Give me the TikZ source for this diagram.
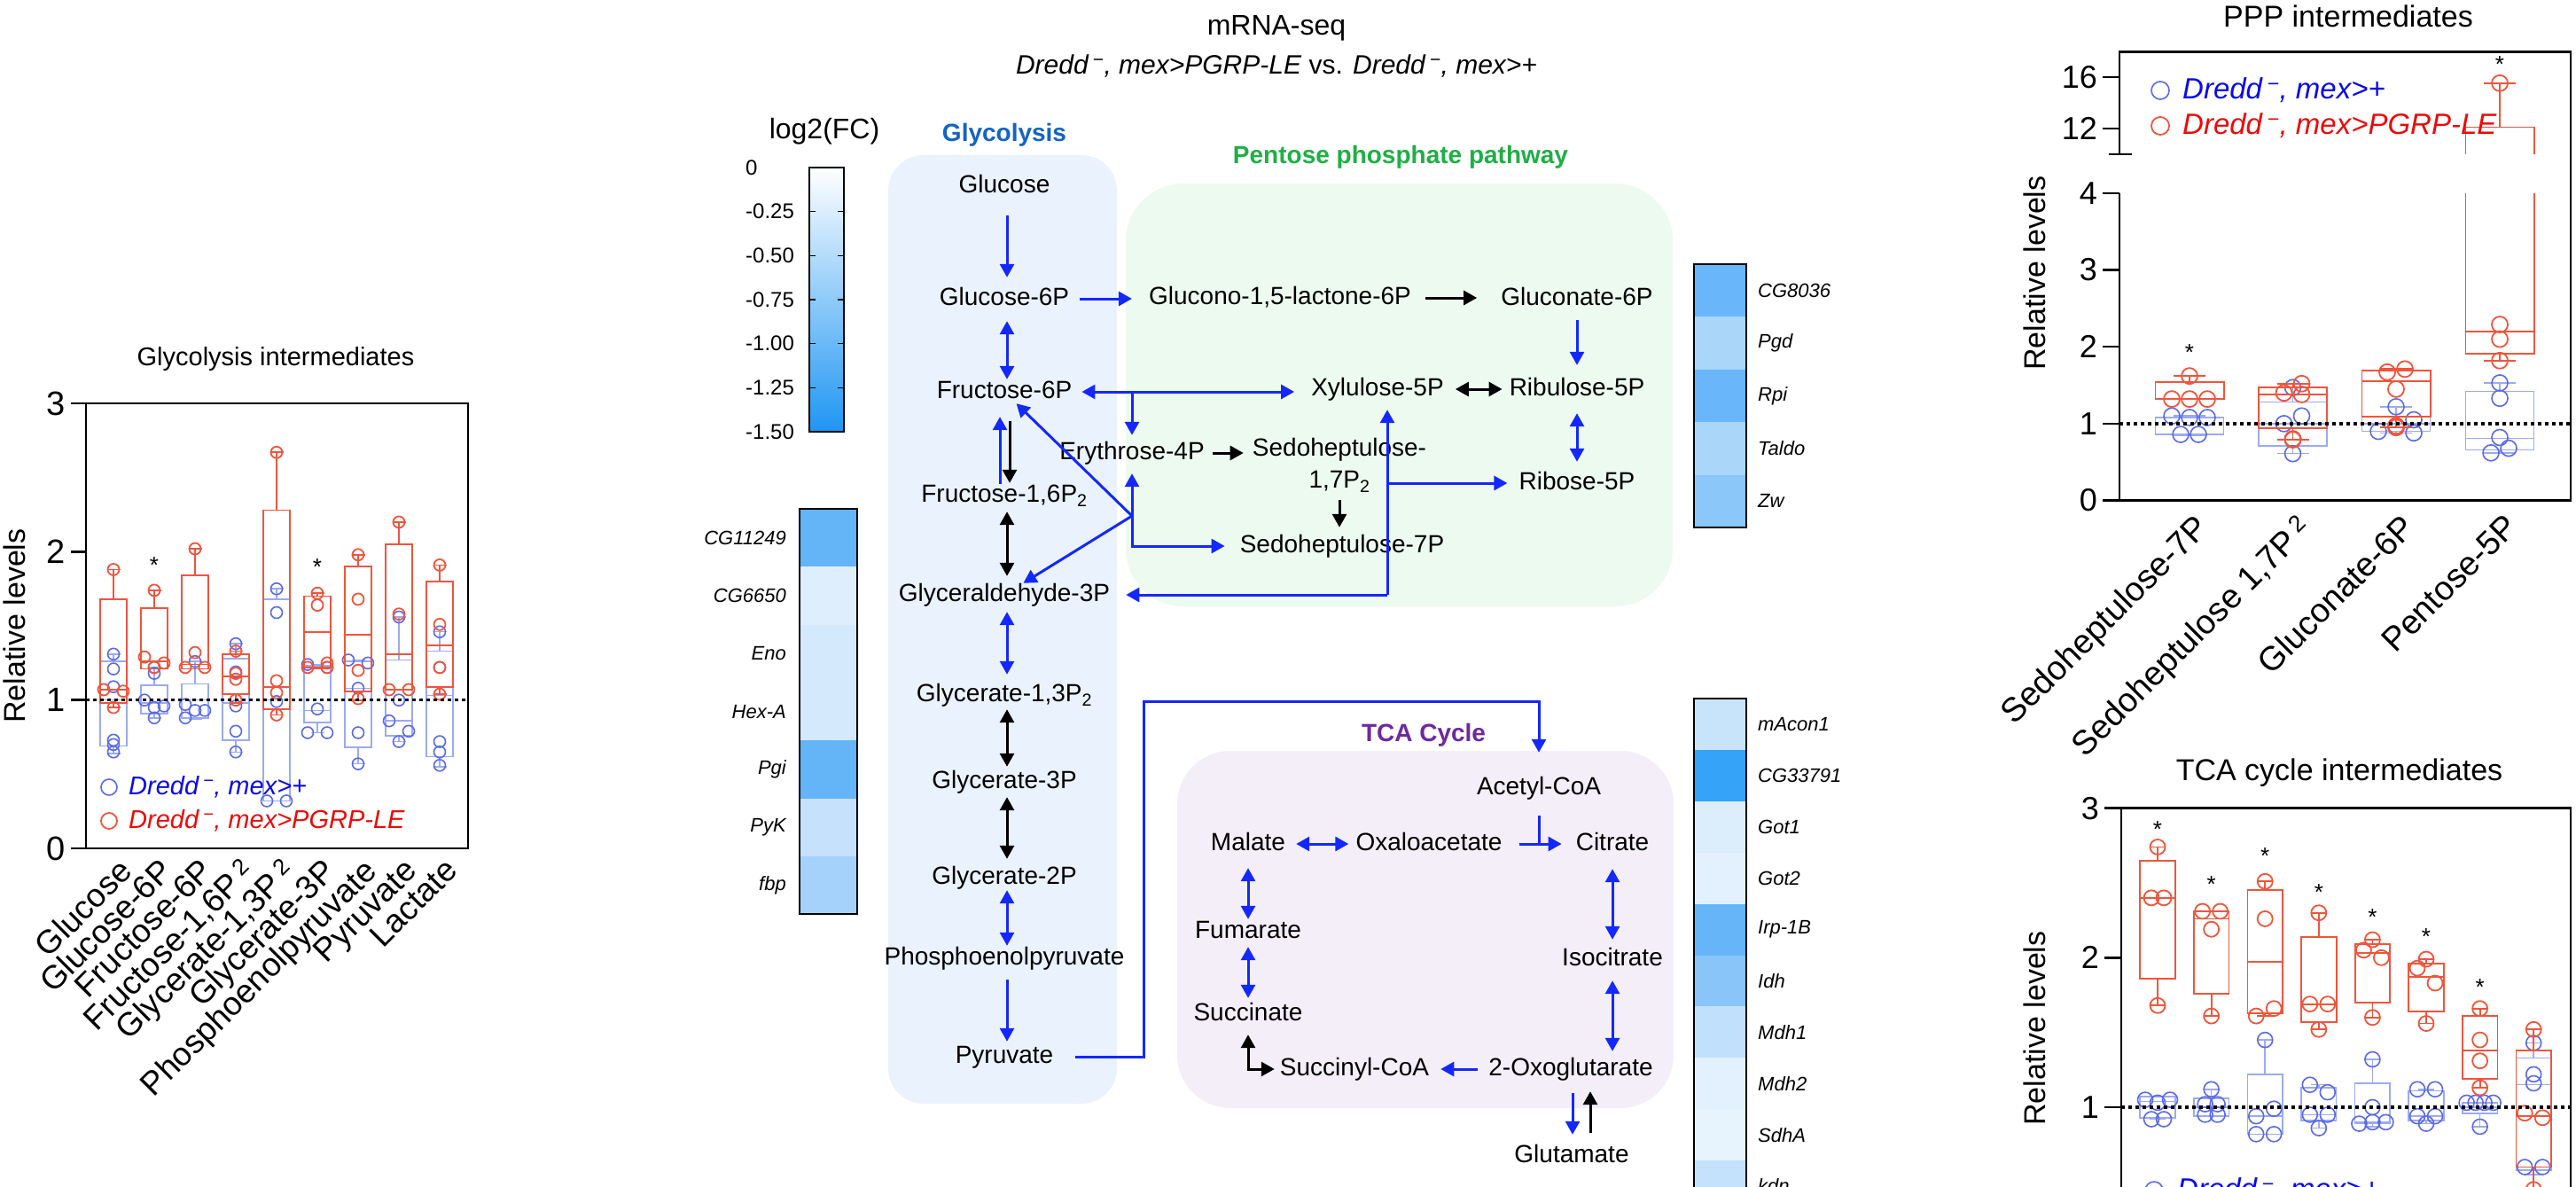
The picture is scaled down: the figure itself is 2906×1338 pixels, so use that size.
\documentclass[tikz,border=0pt]{standalone}
\usepackage{fontspec}
\setmainfont{Liberation Sans}
\usepackage{tikz}
\usetikzlibrary{arrows.meta}

\definecolor{flowblue}{RGB}{20,40,250}
\definecolor{glyfill}{RGB}{234,242,253}
\definecolor{pppfill}{RGB}{237,250,239}
\definecolor{tcafill}{RGB}{243,238,248}
\definecolor{glytext}{RGB}{20,100,195}
\definecolor{ppptext}{RGB}{30,175,70}
\definecolor{tcatext}{RGB}{110,40,160}
\definecolor{boxred}{RGB}{240,85,60}
\definecolor{boxblue}{RGB}{155,170,245}
\definecolor{dotblue}{RGB}{90,105,235}
\definecolor{legblue}{RGB}{10,10,235}
\definecolor{legred}{RGB}{235,10,10}
\definecolor{cbblue}{RGB}{30,150,243}
\definecolor{hg1}{RGB}{100,180,248}
\definecolor{hg2}{RGB}{222,238,252}
\definecolor{hg3}{RGB}{213,233,252}
\definecolor{hg4}{RGB}{213,233,252}
\definecolor{hg5}{RGB}{100,180,248}
\definecolor{hg6}{RGB}{198,225,251}
\definecolor{hg7}{RGB}{165,210,250}
\definecolor{hp1}{RGB}{105,182,250}
\definecolor{hp2}{RGB}{170,214,250}
\definecolor{hp3}{RGB}{105,182,250}
\definecolor{hp4}{RGB}{170,214,250}
\definecolor{hp5}{RGB}{140,199,250}
\definecolor{ht1}{RGB}{200,228,251}
\definecolor{ht2}{RGB}{52,163,248}
\definecolor{ht3}{RGB}{220,237,252}
\definecolor{ht4}{RGB}{226,241,253}
\definecolor{ht5}{RGB}{102,181,248}
\definecolor{ht6}{RGB}{137,197,248}
\definecolor{ht7}{RGB}{192,224,251}
\definecolor{ht8}{RGB}{226,241,253}
\definecolor{ht9}{RGB}{231,244,254}
\definecolor{ht10}{RGB}{196,226,251}

\newcommand{\pxfont}[1]{\fontsize{#1}{#1}\selectfont}
\newcommand{\ctlgeno}{\textit{Dredd\,\textsuperscript{−}, mex>+}}
\newcommand{\pgrpgeno}{\textit{Dredd\,\textsuperscript{−}, mex>PGRP-LE}}
\newcommand{\bplot}[9]{%
  \draw[#7] (#1-\bw,#3) rectangle (#1+\bw,#5)
    (#1-\bw,#4) -- (#1+\bw,#4)
    (#1,#5) -- (#1,#6) (#1-\cw,#6) -- (#1+\cw,#6)
    (#1,#3) -- (#1,#2) (#1-\cw,#2) -- (#1+\cw,#2);
  \foreach \ox/\oy in {#9} \draw[#8] (#1+\ox,\oy) circle[radius=\pr];}

\begin{document}
\begin{tikzpicture}[x=1pt,y=-1pt]
\tikzset{
  >={Triangle[length=15pt,width=16pt]},
  MetBase/.style={inner sep=0pt},
  MetStyle/.style={font=\pxfont{28}, inner sep=0pt, text height=20pt, text depth=6pt},
  BlueArrow/.style={draw=flowblue, line width=3pt},
  BlackArrow/.style={draw=black, line width=3pt},
  PathTitle/.style={font=\bfseries\pxfont{28}},
  GeneStyle/.style={font=\itshape\pxfont{22}, inner sep=0pt},
  CbarStyle/.style={font=\pxfont{24}, inner sep=0pt, anchor=west},
  ChartTitle/.style={font=\pxfont{#1}},
  AxisLabel/.style={font=\pxfont{34}, rotate=90},
  TickLabel/.style={font=\pxfont{#1}, anchor=east, inner sep=0pt},
  CatLabel/.style={font=\pxfont{#1}, rotate=45, anchor=north east, inner sep=0pt},
  FrameStyle/.style={line width=2.5pt, black},
  DotLine/.style={line width=3.5pt, dash pattern=on 3.5pt off 4.5pt},
  RedBox/.style={draw=boxred, line width=1.8pt},
  BlueBox/.style={draw=boxblue, line width=1.5pt},
  BlueDot/.style={draw=dotblue, line width=1.6pt},
  StarStyle/.style={font=\pxfont{26}, inner sep=0pt},
  LegBlue/.style={font=\pxfont{#1}, text=legblue, anchor=west, inner sep=0pt},
  LegRed/.style={font=\pxfont{#1}, text=legred, anchor=west, inner sep=0pt}
}
\useasboundingbox (0,0) rectangle (2906,1338);
\clip (0,0) rectangle (2906,1338);
\fill[white] (0,0) rectangle (2906,1338);

\node[ChartTitle=29] (glytitle) at (311,405) {Glycolysis intermediates};
\node[AxisLabel] (glyylab) at (16,706) {Relative levels};
\begin{scope}[shift={(0,957)}, y=167.3pt]
\def\bw{15}\def\cw{7.5}\def\pr{6.5pt}
\bplot{128}{0.64}{0.69}{1.0}{1.26}{1.31}{BlueBox}{BlueDot}{0/1.31,0/1.21,0/1.09,0/0.73,0/0.70,0/0.65}
\bplot{174}{0.88}{0.91}{0.98}{1.10}{1.22}{BlueBox}{BlueDot}{0/1.22,0/1.18,-11/1.0,11/0.96,0/0.95,0/0.88}
\bplot{220}{0.87}{0.88}{1.0}{1.11}{1.26}{BlueBox}{BlueDot}{0/1.26,-11/0.97,0/0.93,11/0.93,-11/0.88}
\bplot{266}{0.65}{0.73}{0.98}{1.28}{1.38}{BlueBox}{BlueDot}{0/1.38,0/1.19,0/0.96,0/0.79,0/0.65}
\bplot{312}{0.32}{0.32}{1.0}{1.68}{1.75}{BlueBox}{BlueDot}{0/1.75,0/1.59,0/0.99,-11/0.32,11/0.32}
\bplot{358}{0.78}{0.85}{0.93}{1.23}{1.24}{BlueBox}{BlueDot}{-11/1.24,11/1.22,0/0.94,-11/0.78,11/0.78}
\bplot{404}{0.57}{0.68}{1.08}{1.26}{1.27}{BlueBox}{BlueDot}{-11/1.27,11/1.25,0/1.08,0/0.78,0/0.57}
\bplot{450}{0.72}{0.76}{0.86}{1.27}{1.56}{BlueBox}{BlueDot}{0/1.56,0/1.0,-11/0.86,11/0.79,0/0.72}
\bplot{496}{0.55}{0.62}{1.03}{1.33}{1.46}{BlueBox}{BlueDot}{0/1.46,0/1.22,0/0.72,0/0.65,0/0.56}
\bplot{128}{0.95}{0.98}{1.07}{1.68}{1.88}{RedBox}{RedBox}{0/1.88,-11/1.07,11/1.06,0/0.95}
\bplot{174}{1.21}{1.21}{1.26}{1.62}{1.74}{RedBox}{RedBox}{0/1.74,-11/1.29,11/1.25,0/1.22}
\bplot{220}{1.21}{1.21}{1.24}{1.84}{2.02}{RedBox}{RedBox}{0/2.02,0/1.32,-11/1.22,11/1.22}
\bplot{266}{0.98}{1.04}{1.16}{1.31}{1.33}{RedBox}{RedBox}{0/1.33,0/1.18,0/1.14,0/1.0}
\bplot{312}{0.90}{0.94}{1.09}{2.28}{2.67}{RedBox}{RedBox}{0/2.67,0/1.13,0/1.05,0/0.90}
\bplot{358}{1.21}{1.22}{1.46}{1.70}{1.72}{RedBox}{RedBox}{0/1.72,0/1.64,11/1.25,-11/1.22,11/1.22}
\bplot{404}{1.0}{1.06}{1.44}{1.90}{1.98}{RedBox}{RedBox}{0/1.98,0/1.68,0/1.2,0/1.01}
\bplot{450}{1.07}{1.07}{1.31}{2.05}{2.2}{RedBox}{RedBox}{0/2.2,0/1.58,-11/1.07,11/1.07}
\bplot{496}{1.04}{1.09}{1.37}{1.80}{1.91}{RedBox}{RedBox}{0/1.91,0/1.51,0/1.22,0/1.04}
\node[StarStyle] (glys1) at (174,1.91) {*};
\node[StarStyle] (glys2) at (358,1.90) {*};
\draw[DotLine] (97,1) -- (528,1);
\draw[FrameStyle] (97,0) rectangle (528,3);
\foreach \t in {0,1,2,3} {
  \draw[FrameStyle] (80,\t) -- (97,\t);
  \node[TickLabel=38] (glyt\t) at (74,\t) {\t};
}
\end{scope}
\draw[BlueDot] (123,888) circle[radius=9pt];
\node[LegBlue=29] (glyleg1) at (145,888) {\ctlgeno};
\draw[RedBox] (123,926) circle[radius=9pt];
\node[LegRed=29] (glyleg2) at (145,926) {\pgrpgeno};
\foreach \c/\lab [count=\i] in {128/Glucose, 174/Glucose-6P, 220/Fructose-6P, 266/{Fructose-1,6P\,\textsuperscript{2}}, 312/{Glycerate-1,3P\,\textsuperscript{2}}, 358/Glycerate-3P, 404/Phosphoenolpyruvate, 450/Pyruvate, 496/Lactate}
  \node[CatLabel=37] (glyx\i) at (\c+4,966) {\lab};

\node[font=\pxfont{32}] (seqtitle) at (1440,32) {mRNA-seq};
\node[font=\pxfont{30}] (seqsub) at (1440,75) {\textit{Dredd\,\textsuperscript{−}, mex>PGRP-LE} vs. \textit{Dredd\,\textsuperscript{−}, mex>+}};

\node[font=\pxfont{32}] (cbtitle) at (930,148) {log2(FC)};
\shade[top color=white, bottom color=cbblue] (913,189) rectangle (952,487);
\draw[line width=1.5pt] (913,189) rectangle (952,487);
\foreach \k in {1,...,5}
  \draw[line width=1.5pt] (913,{189+49.67*\k}) -- (920,{189+49.67*\k}) (945,{189+49.67*\k}) -- (952,{189+49.67*\k});
\foreach \lab [count=\k from 0] in {0,-0.25,-0.50,-0.75,-1.00,-1.25,-1.50}
  \node[CbarStyle] (cbl\k) at (841,{189+49.67*\k}) {\lab};

\foreach \col/\gene [count=\i] in {hg1/CG11249,hg2/CG6650,hg3/Eno,hg4/Hex-A,hg5/Pgi,hg6/PyK,hg7/fbp} {
  \fill[\col] (902,{574+65.3*(\i-1)}) rectangle (967,{574+65.3*\i});
  \node[GeneStyle, anchor=east] (glyg\i) at (887,{574+65.3*(\i-0.5)}) {\gene};
}
\draw[line width=1.5pt] (902,574) rectangle (967,1031);
\foreach \col/\gene [count=\i] in {hp1/CG8036,hp2/Pgd,hp3/Rpi,hp4/Taldo,hp5/Zw} {
  \fill[\col] (1911,{298+59.4*(\i-1)}) rectangle (1970,{298+59.4*\i});
  \node[GeneStyle, anchor=west] (pppg\i) at (1983,{298+59.4*(\i-0.5)}) {\gene};
}
\draw[line width=1.5pt] (1911,298) rectangle (1970,595);
\foreach \col/\gene [count=\i] in {ht1/mAcon1,ht2/CG33791,ht3/Got1,ht4/Got2,ht5/Irp-1B,ht6/Idh,ht7/Mdh1,ht8/Mdh2,ht9/SdhA,ht10/kdn} {
  \fill[\col] (1911,{788+57.9*(\i-1)}) rectangle (1970,{788+57.9*\i});
  \node[GeneStyle, anchor=west] (tcag\i) at (1983,{788+57.9*(\i-0.5)}) {\gene};
}
\draw[line width=1.5pt] (1911,1367) -- (1911,788) -- (1970,788) -- (1970,1367);

\fill[glyfill, rounded corners=40pt] (1002,175) rectangle (1260,1245);
\fill[pppfill, rounded corners=65pt] (1270,207) rectangle (1887,684);
\fill[tcafill, rounded corners=60pt] (1328,847) rectangle (1888,1250);
\node[PathTitle, text=glytext] (glylab) at (1133,152) {Glycolysis};
\node[PathTitle, text=ppptext] (ppplab) at (1580,177) {Pentose phosphate pathway};
\node[PathTitle, text=tcatext] (tcalab) at (1606,829) {TCA Cycle};

\node[MetStyle] (glc) at (1133,210) {Glucose};
\node[MetStyle] (g6p) at (1133,337) {Glucose-6P};
\node[MetStyle] (f6p) at (1133,442) {Fructose-6P};
\node[MetStyle] (fbp) at (1133,559) {Fructose-1,6P\textsubscript{2}};
\node[MetStyle] (gap) at (1133,671) {Glyceraldehyde-3P};
\node[MetStyle] (bpg) at (1133,784) {Glycerate-1,3P\textsubscript{2}};
\node[MetStyle] (pg3) at (1133,882) {Glycerate-3P};
\node[MetStyle] (pg2) at (1133,990) {Glycerate-2P};
\node[MetStyle] (pep) at (1133,1081) {Phosphoenolpyruvate};
\node[MetStyle] (pyr) at (1133,1192) {Pyruvate};
\node[MetStyle] (gl6) at (1444,336) {Glucono-1,5-lactone-6P};
\node[MetStyle] (gn6) at (1779,337) {Gluconate-6P};
\node[MetStyle] (xu5) at (1554,439) {Xylulose-5P};
\node[MetStyle] (ru5) at (1779,439) {Ribulose-5P};
\node[MetStyle] (e4p) at (1277,511) {Erythrose-4P};
\node[MetBase, align=center, font=\fontsize{28}{36}\selectfont] (s17) at (1511,525) {Sedoheptulose-\\1,7P\textsubscript{2}};
\node[MetStyle] (s7p) at (1514,616) {Sedoheptulose-7P};
\node[MetStyle] (r5p) at (1779,545) {Ribose-5P};
\node[MetStyle] (acoa) at (1736,889) {Acetyl-CoA};
\node[MetStyle] (mal) at (1408,952) {Malate};
\node[MetStyle] (oaa) at (1612,952) {Oxaloacetate};
\node[MetStyle] (cit) at (1819,952) {Citrate};
\node[MetStyle] (fum) at (1408,1051) {Fumarate};
\node[MetStyle] (suc) at (1408,1144) {Succinate};
\node[MetStyle] (icit) at (1819,1082) {Isocitrate};
\node[MetStyle] (sca) at (1528,1206) {Succinyl-CoA};
\node[MetStyle] (akg) at (1772,1206) {2-Oxoglutarate};
\node[MetStyle] (glu) at (1773,1304) {Glutamate};
\coordinate (hub) at (1277,582);
\coordinate (fx) at (1277,442);
\coordinate (xv) at (1565,671);
\coordinate (xr) at (1565,545);
\coordinate (tj) at (1736,952);
\coordinate (pyrup) at (1290,791);

\draw[BlueArrow,->,shorten <=20pt,shorten >=11pt] ([xshift=3pt]glc.south) -- ([xshift=3pt]g6p.north);
\draw[BlueArrow,<->,shorten <=12pt,shorten >=1pt] ([xshift=3pt]g6p.south) -- ([xshift=3pt]f6p.north);
\draw[BlueArrow,->,shorten >=15pt] ([xshift=-5pt]fbp.north) -- ([xshift=-5pt]f6p.south);
\draw[BlackArrow,->,shorten <=20pt,shorten >=1pt] ([xshift=6pt]f6p.south) -- ([xshift=6pt]fbp.north);
\draw[BlackArrow,<->,shorten <=5pt,shorten >=8pt] ([xshift=3pt]fbp.south) -- ([xshift=3pt]gap.north);
\draw[BlueArrow,<->,shorten <=6pt,shorten >=10pt] ([xshift=3pt]gap.south) -- ([xshift=3pt]bpg.north);
\draw[BlackArrow,<->,shorten <=3pt,shorten >=4pt] ([xshift=3pt]bpg.south) -- ([xshift=3pt]pg3.north);
\draw[BlackArrow,<->,shorten <=4pt,shorten >=8pt] ([xshift=3pt]pg3.south) -- ([xshift=3pt]pg2.north);
\draw[BlueArrow,<->,shorten <=1pt,shorten >=1pt] ([xshift=3pt]pg2.south) -- ([xshift=3pt]pep.north);
\draw[BlueArrow,->,shorten <=11pt,shorten >=4pt] ([xshift=3pt]pep.south) -- ([xshift=3pt]pyr.north);
\draw[BlueArrow,->,shorten <=25pt,shorten >=27pt] (pyr) -- (pyr -| pyrup) -- (pyrup) -| (acoa);

\draw[BlueArrow,->,shorten <=12pt,shorten >=19pt] (g6p) -- (g6p -| gl6.west);
\draw[BlackArrow,->,shorten <=16pt,shorten >=27pt] (gl6) -- (gl6 -| gn6.west);
\draw[BlueArrow,->,shorten <=11pt,shorten >=14pt] (gn6) -- (ru5);
\draw[BlackArrow,<->,shorten <=13pt,shorten >=8pt] (xu5) -- (ru5);
\draw[BlueArrow,<->,shorten <=11pt,shorten >=19pt] (f6p) -- (f6p -| xu5.west);
\draw[BlueArrow,->,shorten >=7pt] (fx) -- (e4p);
\draw[BlackArrow,->,shorten <=9pt,shorten >=10pt] (e4p.east) -- (e4p.east -| s17.west);
\draw[BlackArrow,->,shorten <=8pt,shorten >=8pt] (s17.south) -- (s17.south |- s7p.north);
\draw[BlueArrow,->,shorten >=10pt] (hub) -- (e4p);
\draw[BlueArrow,->] (hub) -- (f6p);
\draw[BlueArrow,->] (hub) -- (gap);
\draw[BlueArrow,->,shorten >=17pt] (hub) |- (s7p);
\draw[BlueArrow,->,shorten >=18pt] (xv) -- (gap);
\draw[BlueArrow,->,shorten >=10pt] (xv) -- (xv |- xu5.south);
\draw[BlueArrow,->,shorten >=13pt] (xr) -- (xr -| r5p.west);
\draw[BlueArrow,<->,shorten <=14pt,shorten >=11pt] (ru5) -- (r5p);

\draw[BlueArrow,<->,shorten <=12pt,shorten >=8pt] (mal) -- (oaa);
\draw[BlueArrow,->,shorten <=19pt,shorten >=16pt] (oaa) -- (cit);
\draw[BlueArrow,shorten <=18pt] (acoa) -- (tj);
\draw[BlueArrow,<->,shorten <=14pt,shorten >=1pt] (mal) -- (fum);
\draw[BlueArrow,<->,shorten <=4pt,shorten >=5pt] (fum) -- (suc);
\draw[BlackArrow,<->,shorten <=10pt,shorten >=6pt] (suc) |- (sca);
\draw[BlueArrow,->,shorten <=12pt,shorten >=13pt] (akg) -- (sca);
\draw[BlueArrow,<->,shorten <=15pt,shorten >=9pt] (cit) -- (icit);
\draw[BlueArrow,<->,shorten <=11pt,shorten >=7pt] (icit.south) -- (icit.south |- akg.north);
\draw[BlueArrow,->,shorten <=14pt,shorten >=11pt] ([xshift=2pt]akg.south) -- ([xshift=1pt]glu.north);
\draw[BlackArrow,->,shorten <=13pt,shorten >=12pt] ([xshift=21pt]glu.north) -- ([xshift=22pt]akg.south);

\node[ChartTitle=34] (ppptitle) at (2649,18) {PPP intermediates};
\node[AxisLabel] (pppylab) at (2295,308) {Relative levels};
\begin{scope}[shift={(0,564.6)}, y=86.7pt]
\def\bw{38.6}\def\cw{18}\def\pr{9pt}
\bplot{2470}{0.85}{0.86}{1.08}{1.085}{1.10}{BlueBox}{BlueDot}{-20/1.10,0/1.08,20/1.08,-10/0.86,10/0.86}
\bplot{2586.5}{0.61}{0.71}{1.0}{1.28}{1.47}{BlueBox}{BlueDot}{0/1.47,10/1.1,-10/1.0,0/0.8,0/0.61}
\bplot{2703}{0.88}{0.90}{1.0}{1.09}{1.22}{BlueBox}{BlueDot}{0/1.22,20/1.05,0/0.97,-20/0.9,20/0.88}
\bplot{2820}{0.62}{0.66}{0.81}{1.42}{1.53}{BlueBox}{BlueDot}{0/1.53,0/1.33,0/0.82,10/0.68,-10/0.62}
\bplot{2470}{1.32}{1.32}{1.32}{1.54}{1.62}{RedBox}{RedBox}{0/1.62,-20/1.32,0/1.32,20/1.32}
\bplot{2586.5}{0.79}{0.94}{1.38}{1.47}{1.52}{RedBox}{RedBox}{10/1.52,-10/1.40,10/1.38,0/0.80,0/0.79}
\bplot{2703}{0.95}{1.09}{1.55}{1.69}{1.71}{RedBox}{RedBox}{-10/1.67,10/1.71,0/1.45,0/0.97,0/0.95}
\draw[RedBox] (2781.4,4) -- (2781.4,1.91) -- (2858.6,1.91) -- (2858.6,4)
  (2781.4,4.505) -- (2781.4,4.857) -- (2858.6,4.857) -- (2858.6,4.505)
  (2781.4,2.2) -- (2858.6,2.2)
  (2820,4.857) -- (2820,5.43) (2802,5.43) -- (2838,5.43)
  (2820,1.91) -- (2820,1.82) (2802,1.82) -- (2838,1.82);
\foreach \oy in {5.43,2.29,2.1,1.82} \draw[RedBox] (2820,\oy) circle[radius=9pt];
\node[StarStyle] (ppps1) at (2470,1.93) {*};
\node[StarStyle] (ppps2) at (2820,5.67) {*};
\draw[DotLine] (2391,1) -- (2900,1);
\draw[FrameStyle] (2391,4.505) -- (2391,5.837) -- (2900,5.837) -- (2900,0) -- (2372,0);
\draw[FrameStyle] (2391,0) -- (2391,4);
\draw[FrameStyle] (2379,4.505) -- (2405,4.505);
\draw[FrameStyle] (2372,4.838) -- (2391,4.838) (2372,5.507) -- (2391,5.507);
\foreach \t in {0,...,4} {
  \draw[FrameStyle] (2372,\t) -- (2391,\t);
  \node[TickLabel=36] (pppt\t) at (2366,\t) {\t};
}
\node[TickLabel=36] (pppt12) at (2366,4.838) {12};
\node[TickLabel=36] (pppt16) at (2366,5.507) {16};
\end{scope}
\draw[BlueDot] (2437,102) circle[radius=10pt];
\node[LegBlue=33] (pppleg1) at (2462,102) {\ctlgeno};
\draw[RedBox] (2437,142) circle[radius=10pt];
\node[LegRed=33] (pppleg2) at (2462,142) {\pgrpgeno};
\foreach \c/\lab [count=\i] in {2470/Sedoheptulose-7P, 2586.5/{Sedoheptulose 1,7P\,\textsuperscript{2}}, 2703/Gluconate-6P, 2820/Pentose-5P}
  \node[CatLabel=38] (pppx\i) at (\c+4,578) {\lab};

\node[ChartTitle=34] (tcatitle) at (2639,872) {TCA cycle intermediates};
\node[AxisLabel] (tcaylab) at (2295,1160) {Relative levels};
\begin{scope}[shift={(0,1417.7)}, y=168.7pt]
\def\bw{19.8}\def\cw{9}\def\pr{8.5pt}
\bplot{2434}{0.92}{0.93}{1.04}{1.07}{1.07}{BlueBox}{BlueDot}{-14/1.05,0/1.03,14/1.05,-7/0.92,7/0.92}
\bplot{2494.6}{0.94}{0.94}{1.0}{1.06}{1.12}{BlueBox}{BlueDot}{0/1.12,-7/1.02,7/1.02,-7/0.95,7/0.95}
\bplot{2555.2}{0.82}{0.82}{0.94}{1.22}{1.45}{BlueBox}{BlueDot}{0/1.45,-10/0.94,10/0.99,-10/0.82,10/0.82}
\bplot{2615.8}{0.86}{0.91}{0.95}{1.13}{1.15}{BlueBox}{BlueDot}{-10/1.15,10/1.10,-10/0.95,10/0.95,0/0.86}
\bplot{2676.4}{0.87}{0.89}{0.90}{1.16}{1.32}{BlueBox}{BlueDot}{0/1.32,0/1.0,-15/0.89,0/0.9,15/0.9}
\bplot{2737}{0.89}{0.91}{0.94}{1.11}{1.12}{BlueBox}{BlueDot}{-10/1.12,10/1.12,-10/0.94,10/0.94,0/0.89}
\bplot{2797.6}{0.87}{0.96}{1.0}{1.03}{1.03}{BlueBox}{BlueDot}{-15/1.03,-5/1.03,5/1.03,15/1.03,0/0.87}
\bplot{2858.2}{0.55}{0.58}{1.15}{1.33}{1.43}{BlueBox}{BlueDot}{0/1.43,0/1.22,0/1.16,-10/0.6,10/0.6}
\bplot{2434}{1.68}{1.86}{2.40}{2.65}{2.74}{RedBox}{RedBox}{0/2.74,-7/2.40,7/2.40,0/1.68}
\bplot{2494.6}{1.61}{1.76}{2.26}{2.31}{2.31}{RedBox}{RedBox}{-10/2.31,10/2.31,0/2.19,0/1.61}
\bplot{2555.2}{1.61}{1.63}{1.97}{2.45}{2.51}{RedBox}{RedBox}{0/2.51,0/2.26,10/1.66,-10/1.61}
\bplot{2615.8}{1.52}{1.57}{1.69}{2.14}{2.30}{RedBox}{RedBox}{0/2.30,-10/1.69,10/1.69,0/1.52}
\bplot{2676.4}{1.60}{1.70}{2.03}{2.09}{2.12}{RedBox}{RedBox}{0/2.12,-10/2.05,10/2.0,0/1.60}
\bplot{2737}{1.56}{1.64}{1.87}{1.96}{1.99}{RedBox}{RedBox}{0/1.99,-10/1.93,10/1.83,0/1.56}
\bplot{2797.6}{1.13}{1.19}{1.38}{1.61}{1.66}{RedBox}{RedBox}{0/1.66,0/1.45,0/1.31,0/1.13}
\bplot{2858.2}{0.45}{0.60}{0.94}{1.38}{1.52}{RedBox}{RedBox}{0/1.52,-10/0.96,10/0.93,0/0.45}
\foreach \c/\v [count=\i] in {2434/2.86,2494.6/2.49,2555.2/2.68,2615.8/2.44,2676.4/2.27,2737/2.14,2797.6/1.80}
  \node[StarStyle] (tcas\i) at (\c,\v) {*};
\draw[DotLine] (2393,1) -- (2900,1);
\draw[FrameStyle] (2393,0) rectangle (2900,3);
\foreach \t in {0,1,2,3} {
  \draw[FrameStyle] (2374,\t) -- (2393,\t);
  \node[TickLabel=36] (tcat\t) at (2368,\t) {\t};
}
\end{scope}
\draw[BlueDot] (2430,1343) circle[radius=10pt];
\node[LegBlue=33] (tcaleg1) at (2456,1343) {\ctlgeno};
\end{tikzpicture}
\end{document}
